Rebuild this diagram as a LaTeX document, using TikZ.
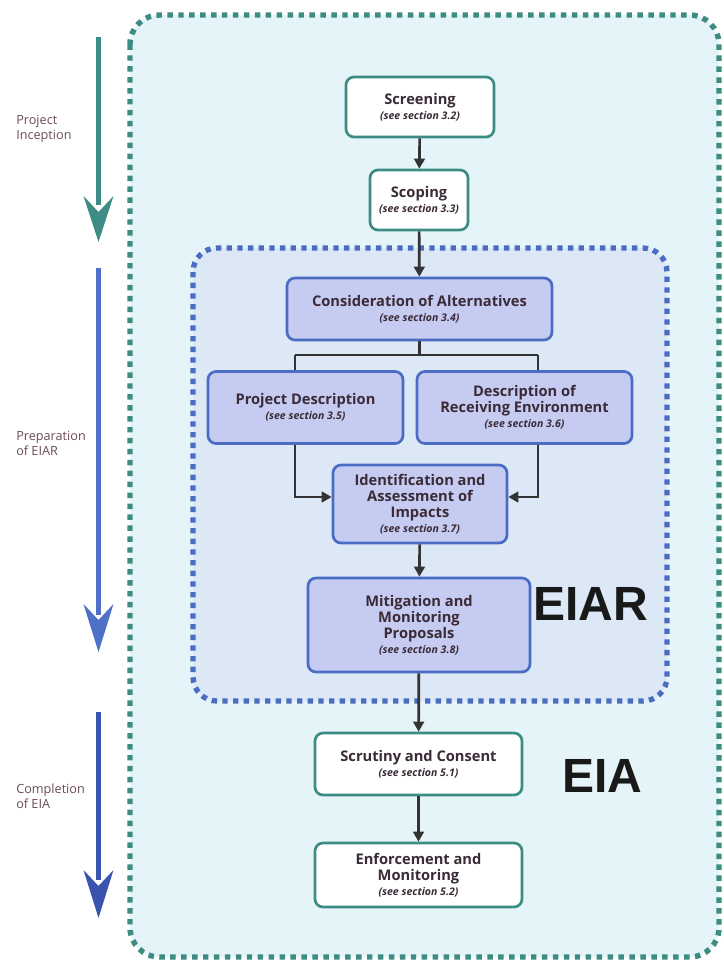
\documentclass[tikz,border=0pt]{standalone}
\usepackage{fontspec}
\setmainfont{Open Sans}
\newfontfamily\heavy{Liberation Sans}
\usetikzlibrary{arrows.meta}
\definecolor{outerfill}{HTML}{E5F4F8}
\definecolor{innerfill}{HTML}{DCE8F6}
\definecolor{tealc}{HTML}{3D8C83}
\definecolor{bluec}{HTML}{4A6CC2}
\definecolor{boxblue}{HTML}{C6CBF2}
\definecolor{txt}{HTML}{3A2B36}
\definecolor{lbl}{HTML}{6B4A58}
\definecolor{arrA}{HTML}{3F8C85}
\definecolor{arrB}{HTML}{4E70C6}
\definecolor{arrC}{HTML}{3A53AE}
\definecolor{connc}{HTML}{333333}
\tikzset{
  whitebox/.style={draw=tealc, fill=white, line width=2pt, rounded corners=6pt,
    inner sep=0pt, align=center, text=txt},
  bluebox/.style={draw=bluec, fill=boxblue, line width=2pt, rounded corners=6pt,
    inner sep=0pt, align=center, text=txt},
  conn/.style={draw=connc, line width=2pt, -{Triangle[length=7.5pt,width=8pt]}},
  plain/.style={draw=connc, line width=2pt},
  sidelabel/.style={anchor=north west, align=left, text=lbl,
    font=\fontsize{9.5pt}{11pt}\selectfont, inner sep=0pt},
  big/.style={text=black!90, font=\heavy\bfseries\fontsize{36pt}{40pt}\selectfont, inner sep=0pt}
}
\newcommand{\ttl}[1]{{\bfseries\fontsize{11pt}{13pt}\selectfont #1}}
\newcommand{\sct}[1]{{\bfseries\itshape\fontsize{7.9pt}{10.5pt}\selectfont #1}}
\begin{document}
\begin{tikzpicture}[x=0.75pt,y=-0.75pt]
\useasboundingbox (0,0) rectangle (724,961);
% outer region
\fill[outerfill, rounded corners=22pt] (130,15) rectangle (719,957);
\draw[tealc, line width=4.1pt, dash pattern=on 4.1pt off 4.1pt, rounded corners=22pt] (130,15) rectangle (719,957);
% inner region
\fill[innerfill, rounded corners=18pt] (193,248) rectangle (667,701);
\draw[bluec, line width=4pt, dash pattern=on 4pt off 4pt, rounded corners=18pt] (193,248) rectangle (667,701);

% side arrows
\fill[arrA] (96,37) rectangle (101,205);
\fill[arrA] (98.5,242) -- (83.5,196) -- (98.5,212) -- (113.5,196) -- cycle;
\fill[arrB] (96,268) rectangle (101,615);
\fill[arrB] (98.5,652) -- (83.5,604) -- (98.5,620) -- (113.5,604) -- cycle;
\fill[arrC] (96,712) rectangle (101,880);
\fill[arrC] (98.5,918) -- (83.5,870) -- (98.5,886) -- (113.5,870) -- cycle;

\node[sidelabel] (l1) at (16,115) {Project\\Inception};
\node[sidelabel] (l2) at (16,431) {Preparation\\of EIAR};
\node[sidelabel] (l3) at (16,784) {Completion\\of EIA};

% boxes
\node[whitebox, minimum width=111pt, minimum height=45pt] (scr) at (420,107)
  {\ttl{Screening}\\[-1pt]\sct{(see section 3.2)}};
\node[whitebox, minimum width=73.5pt, minimum height=45pt] (sco) at (419,200)
  {\ttl{Scoping}\\[-1pt]\sct{(see section 3.3)}};
\node[bluebox, minimum width=198.75pt, minimum height=46.5pt] (cons) at (419.5,309)
  {\ttl{Consideration of Alternatives}\\[-1pt]\sct{(see section 3.4)}};
\node[bluebox, minimum width=146.25pt, minimum height=54pt] (proj) at (305.5,407.5)
  {\ttl{Project Description}\\[-1pt]\sct{(see section 3.5)}};
\node[bluebox, minimum width=161.25pt, minimum height=54pt] (env) at (524.5,407.5)
  {\ttl{Description of}\\\ttl{Receiving Environment}\\[-1pt]\sct{(see section 3.6)}};
\node[bluebox, minimum width=130.5pt, minimum height=58.5pt] (ident) at (420,504)
  {\ttl{Identification and}\\\ttl{Assessment of}\\\ttl{Impacts}\\[-1pt]\sct{(see section 3.7)}};
\node[bluebox, minimum width=166.5pt, minimum height=70.5pt] (mit) at (419,625)
  {\ttl{Mitigation and}\\\ttl{Monitoring}\\\ttl{Proposals}\\[-1pt]\sct{(see section 3.8)}};
\node[whitebox, minimum width=155.25pt, minimum height=46.5pt] (scrut) at (418.5,764)
  {\ttl{Scrutiny and Consent}\\[-1pt]\sct{(see section 5.1)}};
\node[whitebox, minimum width=155.25pt, minimum height=48pt] (enf) at (418.5,875)
  {\ttl{Enforcement and}\\\ttl{Monitoring}\\[-1pt]\sct{(see section 5.2)}};

\node[big, anchor=west] (eiar) at (533,604) {EIAR};
\node[big, anchor=west] (eia) at (562,776) {EIA};

% connectors
\draw[conn] (scr) -- (sco);
\draw[conn] (sco) -- (cons);
\coordinate (bm) at (419.5,355);
\coordinate (bl) at (295,355);
\coordinate (brt) at (538,355);
\draw[plain] (cons.south) -- (bm);
\draw[plain] (bl) -- (brt);
\draw[plain] (bl) -- (bl |- proj.north);
\draw[plain] (brt) -- (brt |- env.north);
\draw[conn] (bl |- proj.south) |- ([yshift=5.25pt]ident.west);
\draw[conn] (brt |- env.south) |- ([yshift=5.25pt]ident.east);
\draw[conn] (ident) -- (mit);
\draw[conn] (mit) -- (scrut);
\draw[conn] (scrut) -- (enf);
\end{tikzpicture}
\end{document}
